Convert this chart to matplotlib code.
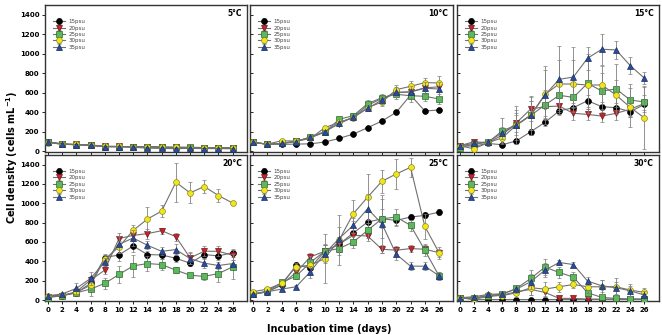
import matplotlib
matplotlib.use("Agg")
import matplotlib.pyplot as plt

days = [0, 2, 4, 6, 8, 10, 12, 14, 16, 18, 20, 22, 24, 26]
salinities = ["15psu", "20psu", "25psu", "30psu", "35psu"]
temps = ["5°C", "10°C", "15°C", "20°C", "25°C", "30°C"]

# mean cell density, rows = 15, 20, 25, 30, 35 psu
mean_05 = [
    [92, 72, 66, 60, 46, 46, 42, 42, 38, 36, 35, 34, 32, 30],
    [95, 74, 68, 62, 48, 48, 44, 45, 40, 38, 37, 36, 33, 32],
    [90, 70, 65, 60, 47, 47, 44, 46, 42, 40, 39, 37, 34, 33],
    [88, 72, 68, 64, 50, 48, 45, 44, 40, 38, 37, 36, 34, 32],
    [96, 75, 66, 58, 45, 44, 40, 30, 28, 26, 28, 26, 26, 24],
]
mean_10 = [
    [89, 72, 69, 72, 75, 93, 130, 175, 240, 309, 398, 575, 412, 422],
    [89, 72, 79, 100, 135, 200, 280, 350, 470, 540, 600, 610, 650, 660],
    [89, 72, 79, 103, 140, 192, 326, 364, 487, 549, 583, 569, 563, 535],
    [89, 72, 106, 103, 130, 240, 295, 343, 446, 504, 631, 665, 703, 700],
    [89, 69, 79, 96, 147, 199, 292, 346, 439, 525, 604, 607, 645, 638],
]
mean_15 = [
    [55, 51, 79, 65, 106, 199, 295, 412, 446, 518, 456, 446, 405, 480],
    [55, 96, 86, 165, 292, 432, 456, 463, 388, 377, 360, 388, 430, 490],
    [34, 72, 89, 209, 268, 367, 473, 573, 552, 696, 617, 638, 525, 504],
    [55, 24, 86, 137, 268, 370, 583, 689, 689, 679, 679, 576, 449, 340],
    [55, 79, 96, 189, 268, 367, 576, 737, 761, 954, 1046, 1039, 878, 748],
]
mean_20 = [
    [34, 45, 75, 172, 439, 466, 559, 470, 466, 432, 381, 470, 456, 490],
    [34, 45, 86, 206, 309, 635, 669, 686, 717, 655, 436, 504, 504, 463],
    [24, 45, 75, 113, 172, 264, 353, 377, 367, 309, 257, 244, 274, 343],
    [45, 48, 79, 154, 422, 549, 720, 837, 919, 1218, 1108, 1173, 1080, 1002],
    [45, 62, 120, 223, 394, 576, 641, 566, 504, 521, 429, 381, 357, 377],
]
mean_25 = [
    [62, 86, 154, 360, 333, 504, 576, 693, 806, 840, 823, 858, 875, 909],
    [62, 86, 161, 285, 446, 504, 576, 669, 662, 525, 515, 532, 525, 490],
    [62, 93, 182, 247, 388, 504, 532, 600, 720, 840, 858, 772, 515, 247],
    [86, 113, 172, 343, 360, 429, 617, 892, 1063, 1228, 1303, 1372, 761, 487],
    [58, 86, 113, 137, 292, 480, 635, 772, 943, 789, 473, 350, 350, 250],
]
mean_30 = [
    [24, 5, 5, 5, 5, 5, 5, 5, 5, 5, 5, 5, 5, 5],
    [24, 10, 34, 51, 86, 110, 79, 17, 17, 10, 10, 10, 10, 10],
    [24, 24, 45, 62, 120, 223, 340, 285, 237, 75, 27, 17, 10, 10],
    [24, 10, 51, 45, 75, 127, 113, 137, 161, 137, 137, 137, 103, 79],
    [24, 34, 58, 65, 113, 189, 309, 388, 367, 196, 147, 127, 96, 51],
]

# standard deviations, same layout
err_05 = [
    [20, 10, 10, 10, 8, 8, 8, 8, 8, 8, 8, 8, 8, 8],
    [20, 10, 10, 10, 8, 8, 8, 8, 8, 8, 8, 8, 8, 8],
    [15, 10, 10, 10, 8, 8, 8, 10, 8, 8, 8, 8, 8, 8],
    [15, 10, 10, 10, 8, 8, 8, 8, 8, 8, 8, 8, 8, 8],
    [20, 10, 10, 10, 8, 8, 8, 15, 15, 12, 10, 10, 10, 10],
]
err_10 = [
    [10, 5, 5, 5, 5, 8, 10, 12, 15, 15, 20, 30, 20, 20],
    [10, 5, 5, 8, 10, 12, 15, 20, 25, 30, 40, 50, 50, 50],
    [10, 5, 8, 8, 10, 15, 20, 25, 35, 40, 45, 60, 50, 50],
    [10, 5, 8, 8, 10, 15, 20, 25, 30, 40, 45, 50, 50, 70],
    [10, 5, 5, 8, 10, 15, 20, 25, 30, 40, 50, 60, 60, 70],
]
err_15 = [
    [15, 10, 10, 10, 20, 30, 40, 40, 50, 60, 50, 50, 50, 60],
    [15, 15, 15, 40, 100, 120, 100, 80, 70, 60, 60, 70, 80, 90],
    [15, 15, 20, 130, 200, 150, 150, 150, 150, 300, 180, 260, 160, 160],
    [15, 15, 20, 60, 150, 200, 250, 250, 250, 250, 200, 150, 200, 320],
    [15, 15, 20, 60, 100, 150, 300, 340, 310, 120, 160, 95, 90, 60],
]
err_20 = [
    [15, 10, 15, 30, 40, 60, 60, 40, 40, 40, 30, 50, 40, 40],
    [15, 10, 15, 40, 40, 60, 60, 50, 30, 40, 60, 50, 50, 50],
    [15, 10, 20, 70, 60, 90, 110, 80, 60, 30, 20, 40, 90, 130],
    [15, 10, 20, 50, 40, 60, 60, 120, 60, 200, 110, 70, 70, 20],
    [15, 10, 60, 70, 40, 90, 80, 40, 40, 60, 60, 50, 40, 40],
]
err_25 = [
    [15, 10, 20, 30, 40, 60, 80, 120, 100, 100, 60, 30, 30, 30],
    [15, 10, 20, 30, 40, 60, 80, 60, 50, 40, 40, 40, 40, 40],
    [15, 10, 20, 30, 40, 60, 70, 60, 80, 200, 80, 60, 60, 40],
    [15, 10, 20, 40, 100, 250, 260, 140, 240, 120, 150, 100, 130, 60],
    [15, 10, 20, 20, 60, 100, 120, 80, 150, 300, 60, 40, 40, 40],
]
err_30 = [
    [10, 5, 5, 5, 5, 5, 5, 5, 5, 5, 5, 5, 5, 5],
    [10, 5, 10, 15, 30, 60, 50, 10, 10, 5, 5, 5, 5, 5],
    [10, 10, 15, 20, 40, 90, 80, 60, 50, 40, 20, 10, 10, 10],
    [10, 10, 20, 20, 40, 80, 70, 50, 40, 60, 70, 90, 60, 50],
    [10, 10, 20, 20, 40, 80, 70, 30, 30, 40, 60, 60, 50, 40],
]

means = [mean_05, mean_10, mean_15, mean_20, mean_25, mean_30]
errs = [err_05, err_10, err_15, err_20, err_25, err_30]

# marker styles per salinity
markers = ["o", "v", "s", "o", "^"]
faces = ["#000000", "#c0272d", "#5cb85c", "#f2e61a", "#2b4c9b"]
edges = ["#000000", "#7a1014", "#2e6b2e", "#8a8a1a", "#1a2f66"]

fig = plt.figure(figsize=(6.62, 3.35), dpi=100)

lefts = [0.068, 0.378, 0.690]
widths = [0.305, 0.307, 0.305]
bottoms = [0.546, 0.1015]
heights = [0.439, 0.436]

for i in range(6):
    r, c = divmod(i, 3)
    ax = fig.add_axes([lefts[c], bottoms[r], widths[c], heights[r]])
    for k in range(5):
        ax.errorbar(days, means[i][k], yerr=errs[i][k], color="#707070",
                    lw=0.8, elinewidth=0.6, capsize=1.5, capthick=0.6,
                    ecolor="#808080", marker=markers[k], ms=4.2,
                    mfc=faces[k], mec=edges[k], mew=0.5,
                    label=salinities[k], zorder=2 + k)
    ax.set_xlim(-0.4, 28)
    ax.set_ylim(-10, 1500)
    ax.set_xticks(days)
    ax.set_yticks(range(0, 1401, 200))
    ax.tick_params(length=2, width=0.6, labelsize=5, pad=2)
    for lab in ax.get_xticklabels() + ax.get_yticklabels():
        lab.set_fontweight("bold")
    if r == 0:
        ax.set_xticklabels([])
    if c != 0:
        ax.set_yticklabels([])
        ax.tick_params(axis="y", direction="in")
    for sp in ax.spines.values():
        sp.set_linewidth(1.0)
        sp.set_color("#333333")
    ax.text(0.975, 0.94, temps[i], transform=ax.transAxes, ha="right",
            va="center", fontsize=5.5, fontweight="bold")
    leg = ax.legend(loc="upper left", bbox_to_anchor=(0.02, 0.93),
                    frameon=False, fontsize=4, handlelength=2.2,
                    handletextpad=0.6, labelspacing=0.25, borderpad=0.2,
                    numpoints=1)
    for t in leg.get_texts():
        t.set_color("#444444")

fig.text(0.018, 0.53, "Cell density (cells mL$^{\\mathbf{-1}}$)", rotation=90,
         ha="center", va="center", fontsize=7, fontweight="bold")
fig.text(0.497, 0.018, "Incubation time (days)", ha="center", va="center",
         fontsize=7, fontweight="bold")

fig.savefig("out.png", dpi=100)
